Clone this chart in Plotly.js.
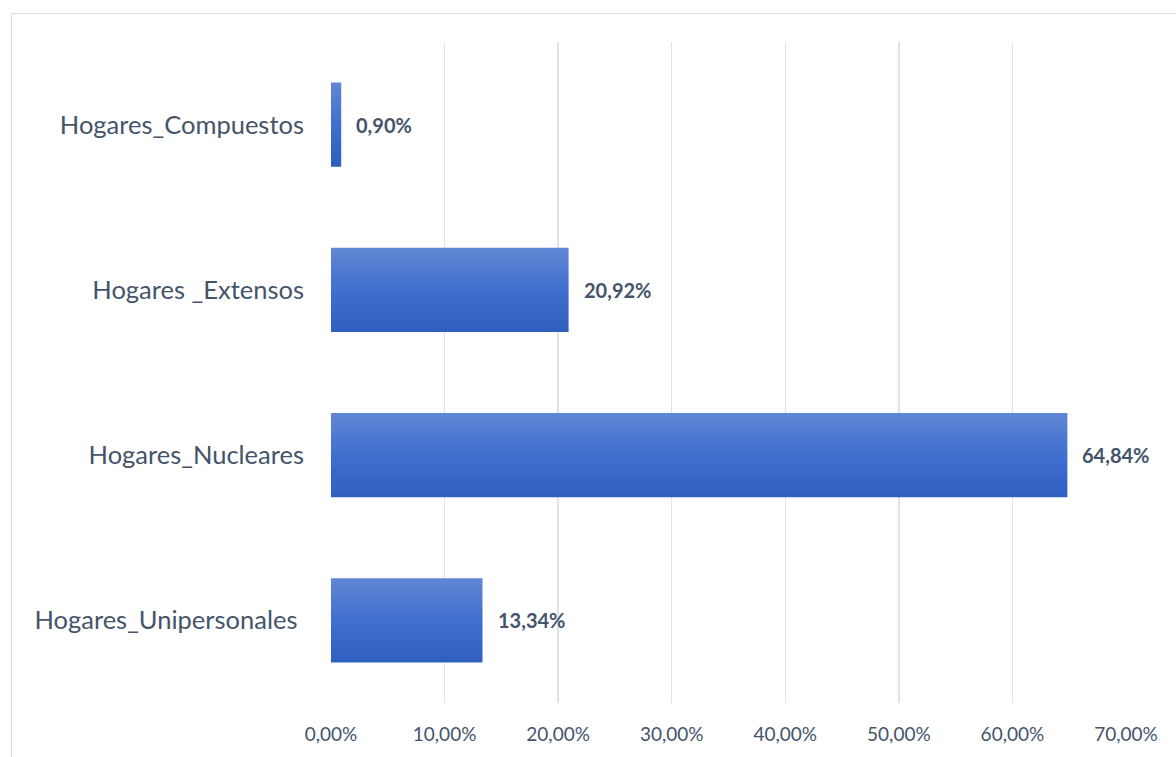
<!DOCTYPE html>
<html>
<head>
<meta charset="utf-8">
<script src="https://cdn.plot.ly/plotly-3.0.1.min.js"></script>
<style>
html,body{margin:0;padding:0;background:#fff;overflow:hidden;}
#frame{position:absolute;left:11px;top:13px;width:1200px;height:800px;border:1.5px solid #dadde3;box-sizing:border-box;pointer-events:none;z-index:2;}
#chart{position:absolute;left:0;top:0;width:1176px;height:757px;}
</style>
</head>
<body>
<div id="frame"></div>
<div id="chart"></div>
<script>
const categories = ["Hogares_Unipersonales ", "Hogares_Nucleares", "Hogares _Extensos", "Hogares_Compuestos"];
const values = [13.34, 64.84, 20.92, 0.90];
const tickVals = [0, 10, 20, 30, 40, 50, 60, 70];
const tickText = ["0,00%", "10,00%", "20,00%", "30,00%", "40,00%", "50,00%", "60,00%", "70,00%"];
const valueLabels = values.map(v => v.toFixed(2).replace('.', ',') + '%');

const textColor = '#44546a';
const font = 'Lato, "Open Sans", sans-serif';

const trace = {
  type: 'bar',
  orientation: 'h',
  x: values,
  y: categories,
  marker: {color: '#4472c4'},
  hoverinfo: 'skip'
};

const annotations = values.map((v, i) => ({
  x: v, y: categories[i], xref: 'x', yref: 'y',
  text: '<b>' + valueLabels[i] + '</b>',
  showarrow: false, xanchor: 'left', xshift: 13,
  font: {family: font, size: 20, color: textColor}
}));

const layout = {
  width: 1176, height: 757,
  margin: {l: 331, r: 50, t: 42, b: 54},
  paper_bgcolor: '#fff', plot_bgcolor: '#fff',
  showlegend: false,
  bargap: 0.49,
  xaxis: {
    range: [0, 70], tickvals: tickVals, ticktext: tickText,
    showgrid: true, gridcolor: '#dfe3ea', gridwidth: 1.5,
    zeroline: false, showline: false, ticks: '',
    tickfont: {family: font, size: 19, color: textColor},
    ticklabelstandoff: 18, fixedrange: true
  },
  yaxis: {
    showgrid: false, zeroline: false, showline: false, ticks: '',
    tickfont: {family: font, size: 25.5, color: textColor},
    ticklabelstandoff: 26, fixedrange: true
  },
  annotations: annotations
};

Plotly.newPlot('chart', [trace], layout, {displayModeBar: false, staticPlot: true}).then(gd => {
  const svg = gd.querySelector('svg.main-svg');
  const ns = 'http://www.w3.org/2000/svg';
  let defs = svg.querySelector('defs');
  if (!defs) { defs = document.createElementNS(ns, 'defs'); svg.insertBefore(defs, svg.firstChild); }
  const g = document.createElementNS(ns, 'linearGradient');
  g.setAttribute('id', 'barGrad');
  g.setAttribute('x1', '0'); g.setAttribute('y1', '0'); g.setAttribute('x2', '0'); g.setAttribute('y2', '1');
  [['0', '#6187d4'], ['0.5', '#3f6fcf'], ['1', '#2e5fbe']].forEach(([o, c]) => {
    const s = document.createElementNS(ns, 'stop');
    s.setAttribute('offset', o); s.setAttribute('stop-color', c);
    g.appendChild(s);
  });
  defs.appendChild(g);
  gd.querySelectorAll('.bars .point path').forEach(p => { p.style.fill = 'url(#barGrad)'; });
});
</script>
</body>
</html>
